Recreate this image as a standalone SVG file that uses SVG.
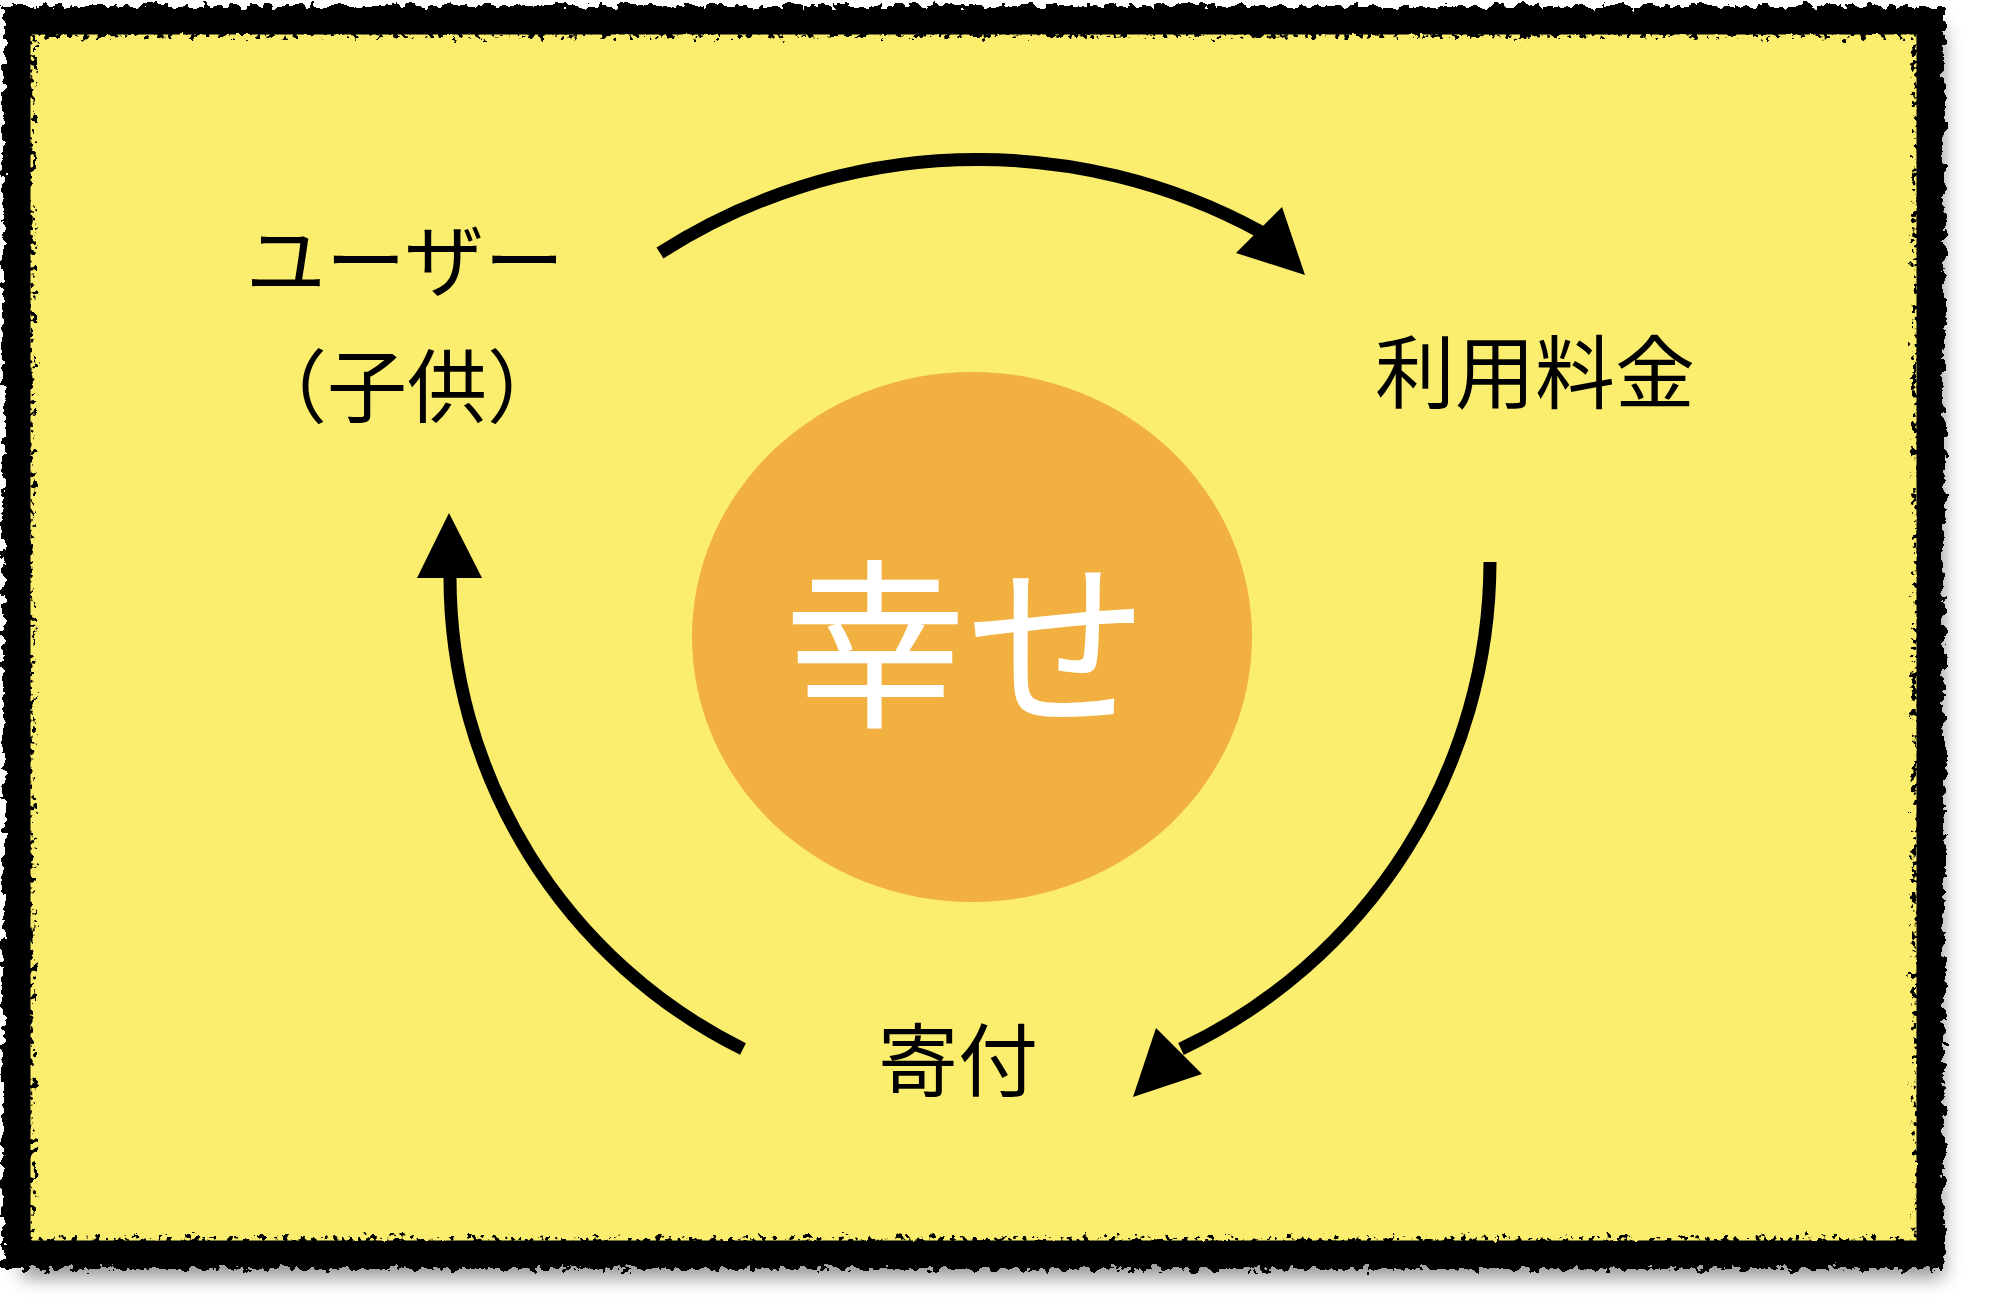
<svg xmlns="http://www.w3.org/2000/svg" width="1992" height="1310" viewBox="0 0 1992 1310">
  <defs>
    <filter id="rough" x="-5%" y="-5%" width="110%" height="110%">
      <feTurbulence type="fractalNoise" baseFrequency="0.1" numOctaves="3" seed="4" result="n"/>
      <feDisplacementMap in="SourceGraphic" in2="n" scale="16" xChannelSelector="R" yChannelSelector="G"/>
    </filter>
    <filter id="speckle" x="-5%" y="-5%" width="110%" height="110%">
      <feTurbulence type="fractalNoise" baseFrequency="0.18" numOctaves="2" seed="9" result="n"/>
      <feColorMatrix in="n" type="matrix" values="0 0 0 0 0  0 0 0 0 0  0 0 0 0 0  0 0 0 -14 8.2" result="m"/>
      <feComposite in="SourceGraphic" in2="m" operator="in"/>
    </filter>
    <filter id="shadow" x="-5%" y="-5%" width="115%" height="115%">
      <feGaussianBlur stdDeviation="9"/>
    </filter>
    <style>
      .lbl { font-family: "Noto Sans CJK JP", "Noto Sans", sans-serif; font-size: 80px; fill: #000; text-anchor: middle; }
      .big { font-family: "Noto Sans CJK JP", "Noto Sans", sans-serif; font-size: 182px; fill: #fff; text-anchor: middle; }
      .arc { fill: none; stroke: #000; stroke-width: 13; }
      .head { fill: #000; }
    </style>
  </defs>

  <rect width="1992" height="1310" fill="#ffffff"/>

  <g id="frame">
    <rect x="22" y="28" width="1922" height="1250" fill="#777" opacity="0.75" filter="url(#shadow)"/>
    <rect x="19" y="22" width="1909" height="1231" fill="#FBEE6E"/>
    <rect x="19" y="22" width="1909" height="1231" fill="none" stroke="#000" stroke-width="32" filter="url(#rough)"/>
    <rect x="35" y="39" width="1877" height="1197" fill="none" stroke="#FBEE6E" stroke-width="9" filter="url(#speckle)"/>
  </g>

  <g id="center">
    <ellipse cx="972" cy="637" rx="280" ry="265" fill="#F1B03F"/>
    <text class="big" x="966" y="713">幸せ</text>
  </g>

  <g id="user">
    <text class="lbl" x="405" y="290">ユーザー</text>
    <text class="lbl" x="407" y="416">（子供）</text>
  </g>

  <g id="fee">
    <text class="lbl" x="1535" y="402">利用料金</text>
  </g>

  <g id="donation">
    <text class="lbl" x="958" y="1090">寄付</text>
  </g>

  <g id="connectors">
    <path class="arc" d="M 660 253 A 588 588 0 0 1 1261 232"/>
    <polygon class="head" points="1305,275 1282,207 1236,253"/>
    <path class="arc" d="M 1490 562 A 540 540 0 0 1 1181 1049"/>
    <polygon class="head" points="1133,1097 1156,1028 1202,1074"/>
    <path class="arc" d="M 743 1049 A 527 527 0 0 1 450 576"/>
    <polygon class="head" points="449,513 417,578 482,578"/>
  </g>
</svg>
